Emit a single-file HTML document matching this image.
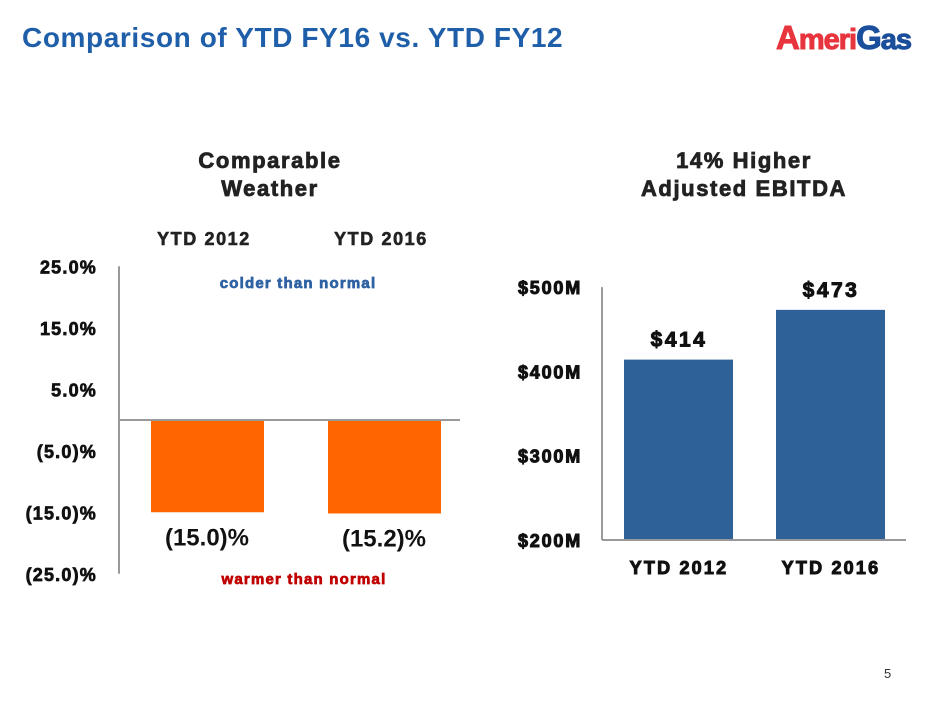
<!DOCTYPE html>
<html><head><meta charset="utf-8"><style>
body{margin:0;width:940px;height:705px;background:#fff;overflow:hidden;font-family:"Liberation Sans",sans-serif;position:relative}
.t{position:absolute;font-weight:bold;white-space:nowrap}
svg text{font-family:"Liberation Sans",sans-serif;font-weight:bold}
</style></head><body>
<div class="t" style="left:22px;top:22px;font-size:28px;letter-spacing:0.6px;color:#1f5ea8">Comparison of YTD FY16 vs. YTD FY12</div>
<div class="t" style="left:776px;top:19px;font-size:29px;letter-spacing:-1px;-webkit-text-stroke:1px"><span style="color:#e8343c;font-size:33px">A</span><span style="color:#e8343c">meri</span><span style="color:#1b4f9c;font-size:33px">G</span><span style="color:#1b4f9c">as</span></div>
<div class="t" style="left:120px;top:147px;width:300px;text-align:center;font-size:22px;letter-spacing:1.6px;line-height:28px;color:#222;-webkit-text-stroke:0.8px">Comparable<br>Weather</div>
<div class="t" style="left:594px;top:147px;width:300px;text-align:center;font-size:22px;letter-spacing:1.6px;line-height:28px;color:#222;-webkit-text-stroke:0.8px">14% Higher<br>Adjusted EBITDA</div>
<div class="t" style="left:884px;top:666px;font-size:13px;font-weight:normal;color:#333">5</div>
<svg width="940" height="705" style="position:absolute;left:0;top:0" id="s"></svg>
<script>
const wCats=["YTD 2012","YTD 2016"];
const wVals=[-15.0,-15.2];
const wLabels=["(15.0)%","(15.2)%"];
const wTicks=[25,15,5,-5,-15,-25];
const wTickLabels=["25.0%","15.0%","5.0%","(5.0)%","(15.0)%","(25.0)%"];
const eCats=["YTD 2012","YTD 2016"];
const eVals=[414,473];
const eLabels=["$414","$473"];
const eTicks=[500,400,300,200];
const eTickLabels=["$500M","$400M","$300M","$200M"];
const NS="http://www.w3.org/2000/svg",s=document.getElementById('s');
function mk(t,a,txt){const e=document.createElementNS(NS,t);for(const k in a)e.setAttribute(k,a[k]);if(txt!=null)e.textContent=txt;s.appendChild(e);return e;}
const wy=v=>420-v*6.15;
const wx=i=>151+i*177;
let e;
wTicks.forEach((t,i)=>{e=mk('text',{x:97,y:wy(t)+7,'text-anchor':'end','font-size':18,'letter-spacing':1.2,fill:'#111',stroke:'#111','stroke-width':0.7},wTickLabels[i]);

});
e=mk('line',{x1:119,y1:wy(25),x2:119,y2:wy(-25),stroke:'#999','stroke-width':2});


wVals.forEach((v,i)=>{const y0=wy(0),y1=wy(v);
e=mk('rect',{x:wx(i),y:Math.min(y0,y1),width:113,height:Math.abs(y1-y0),fill:'#ff6600'});


e=mk('text',{x:wx(i)+56,y:y1+33,'text-anchor':'middle','font-size':24,fill:'#111'},wLabels[i]);


e=mk('text',{x:wx(i)+53,y:245,'text-anchor':'middle','font-size':18,'letter-spacing':1.6,fill:'#222',stroke:'#222','stroke-width':0.6},wCats[i]);

});
e=mk('line',{x1:119,y1:wy(0),x2:460,y2:wy(0),stroke:'#999','stroke-width':2});


e=mk('text',{x:298,y:288,'text-anchor':'middle','font-size':15,'letter-spacing':1.2,fill:'#2e62a3',stroke:'#2e62a3','stroke-width':0.7},'colder than normal');


e=mk('text',{x:304,y:584,'text-anchor':'middle','font-size':15,'letter-spacing':1.2,fill:'#c00000',stroke:'#c00000','stroke-width':0.7},'warmer than normal');


const ey=v=>540-(v-200)*0.843;
const ex=i=>624+i*152;
eTicks.forEach((t,i)=>{e=mk('text',{x:582,y:ey(t)+7,'text-anchor':'end','font-size':18,'letter-spacing':1.8,fill:'#111',stroke:'#111','stroke-width':1},eTickLabels[i]);

});
eVals.forEach((v,i)=>{
e=mk('rect',{x:ex(i),y:ey(v),width:109,height:ey(200)-ey(v),fill:'#2f6199'});


e=mk('text',{x:ex(i)+55,y:ey(v)-13,'text-anchor':'middle','font-size':21,'letter-spacing':2.5,fill:'#111',stroke:'#111','stroke-width':1},eLabels[i]);


e=mk('text',{x:ex(i)+55,y:574,'text-anchor':'middle','font-size':18,'letter-spacing':2.2,fill:'#111',stroke:'#111','stroke-width':1},eCats[i]);

});
e=mk('line',{x1:602,y1:ey(500),x2:602,y2:ey(200),stroke:'#999','stroke-width':2});


e=mk('line',{x1:602,y1:ey(200),x2:906,y2:ey(200),stroke:'#999','stroke-width':2});


</script>
</body></html>
